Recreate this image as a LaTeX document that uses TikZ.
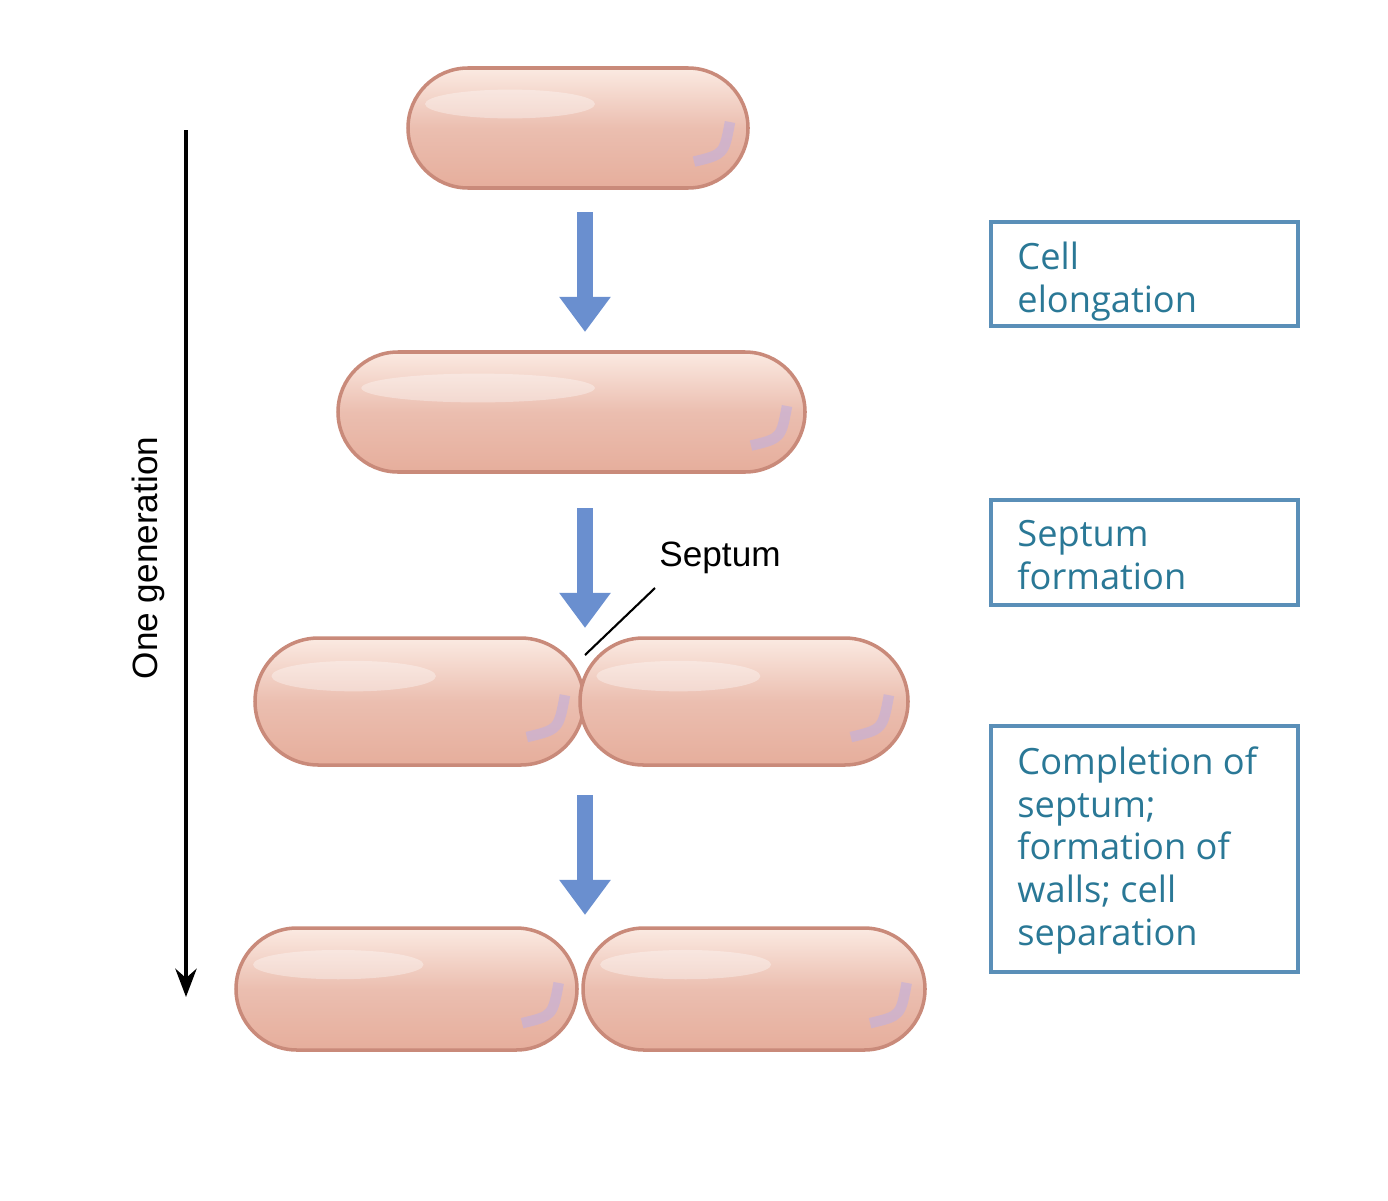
\documentclass[tikz,border=0pt]{standalone}
\usepackage{fontspec}
\setmainfont{Open Sans}
\setsansfont{Liberation Sans}
\definecolor{cellA}{HTML}{E6AE9C}
\definecolor{cellB}{HTML}{C98A7A}
\definecolor{cellHi}{HTML}{FBEAE2}
\definecolor{barrow}{HTML}{6A8FCF}
\definecolor{boxtext}{HTML}{2A7896}
\definecolor{boxline}{HTML}{5A8FB8}
\tikzset{
 px/.style={x=0.01cm,y=-0.01cm},
 stepbox/.style={draw=boxline,line width=1.2pt,inner sep=0pt,anchor=north west},
 boxlabel/.style={text=boxtext,font=\fontsize{10.3}{12.2}\selectfont,align=left,anchor=north west},
 flow/.style={barrow,line width=4.5pt,-{Triangle[length=10pt,width=14pt]}},
}
\usetikzlibrary{arrows.meta}
\newcommand{\capsule}[4]{% x1 y1 x2 y2
 \pgfmathsetmacro{\rr}{(#4-#2)/2*0.01}
 \shade[top color=cellHi,bottom color=cellA,middle color=cellA!80!white,rounded corners=\rr cm] (#1,#2) rectangle (#3,#4);
 \begin{scope}
 \clip[rounded corners=\rr cm] (#1,#2) rectangle (#3,#4);
 \fill[white,opacity=0.35] ({#1+0.3*(#3-#1)},{#2+0.3*(#4-#2)}) ellipse ({0.25*(#3-#1)} and {0.12*(#4-#2)});
 \draw[white!70!blue!60!cellA,line width=3pt,opacity=0.7] ({#3-0.45*(#4-#2)},{#2+0.78*(#4-#2)}) .. controls ({#3-0.2*(#4-#2)},{#2+0.72*(#4-#2)}) .. ({#3-0.15*(#4-#2)},{#2+0.45*(#4-#2)});
 \end{scope}
 \draw[cellB,line width=1pt,rounded corners=\rr cm] (#1,#2) rectangle (#3,#4);
}
\begin{document}
\begin{tikzpicture}[px]
\useasboundingbox (0,0) rectangle (1388,1200);
\capsule{408}{68}{748}{188}
\capsule{338}{352}{805}{472}
\capsule{255}{638}{584}{765}
\capsule{580}{638}{908}{765}
\capsule{236}{928}{577}{1050}
\capsule{583}{928}{925}{1050}
\coordinate (a1) at (585,212); \coordinate (a1e) at (585,332);
\coordinate (a2) at (585,508); \coordinate (a2e) at (585,628);
\coordinate (a3) at (585,795); \coordinate (a3e) at (585,915);
\draw[flow] (a1)--(a1e); \draw[flow] (a2)--(a2e); \draw[flow] (a3)--(a3e);
\coordinate (g1) at (186,130); \coordinate (g2) at (186,997);
\draw[line width=1.3pt,-{Stealth[length=8pt,width=6pt]}] (g1)--(g2);
\node[rotate=90,font=\sffamily\fontsize{10}{12}\selectfont] (gen) at (148,558) {One generation};
\node[font=\sffamily\fontsize{10}{12}\selectfont] (sep) at (720,558) {Septum};
\coordinate (sp1) at (655,588); \coordinate (sp2) at (585,655);
\draw[line width=0.6pt] (sp1)--(sp2);
\draw[stepbox] (991,222) rectangle (1298,326);
\node[boxlabel] (b1) at (1005,230) {Cell\\elongation};
\draw[stepbox] (991,500) rectangle (1298,605);
\node[boxlabel] (b2) at (1005,508) {Septum\\formation};
\draw[stepbox] (991,726) rectangle (1298,972);
\node[boxlabel] (b3) at (1005,734) {Completion of\\septum;\\formation of\\walls; cell\\separation};
\end{tikzpicture}
\end{document}
